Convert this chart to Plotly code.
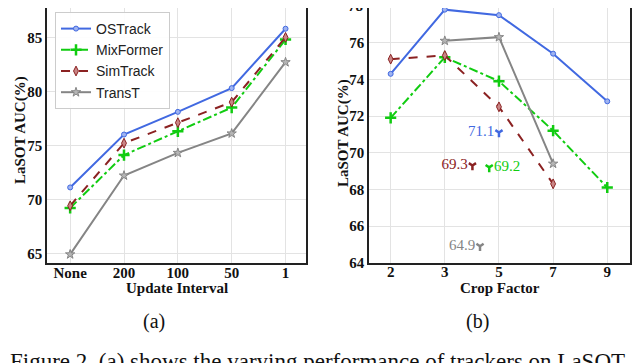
import plotly.graph_objects as go

# (a) update interval
intervals = ["None", "200", "100", "50", "1"]
ostrack_a = [71.1, 76.0, 78.1, 80.3, 85.8]
mixformer_a = [69.2, 74.1, 76.3, 78.5, 84.8]
simtrack_a = [69.4, 75.2, 77.1, 79.0, 85.0]
transt_a = [64.9, 72.2, 74.3, 76.1, 82.7]

# (b) crop factor
crop_factors = ["2", "3", "5", "7", "9"]
ostrack_b = [74.3, 77.8, 77.5, 75.4, 72.8]
mixformer_b = [71.9, 75.2, 73.9, 71.2, 68.1]
simtrack_b = [75.1, 75.3, 72.5, 68.3, None]
transt_b = [None, 76.1, 76.3, 69.4, None]

# single reference points in (b), x given in category-index units
ref_names = ["OSTrack", "SimTrack", "MixFormer", "TransT"]
ref_pos = [2.0, 1.51, 1.82, 1.65]
ref_vals = [71.1, 69.3, 69.2, 64.9]

W, H = 640, 363
OFF = 8  # page body margin around the plot div


def fx(p):
    return (p - OFF) / W


def fy(p):
    return 1 - (p - OFF) / H


BLUE = "#4169e1"
GREEN = "#11cc11"
RED = "#8b2222"
GRAY = "#858585"

styles = {
    "OSTrack": dict(line=dict(color=BLUE, width=2),
                    marker=dict(symbol="circle", size=5, color="#9fb3f0",
                                line=dict(color=BLUE, width=1))),
    "MixFormer": dict(line=dict(color=GREEN, width=2, dash="dashdot"),
                      marker=dict(symbol="cross-thin-open", size=8, color=GREEN,
                                  line=dict(color=GREEN, width=2.5))),
    "SimTrack": dict(line=dict(color=RED, width=2, dash="dash"),
                     marker=dict(symbol="diamond-tall", size=7, color="#c98585",
                                 line=dict(color=RED, width=1))),
    "TransT": dict(line=dict(color=GRAY, width=2),
                   marker=dict(symbol="star", size=7, color="#b5b5b5",
                               line=dict(color=GRAY, width=1))),
}
ref_colors = {"OSTrack": BLUE, "SimTrack": RED, "MixFormer": GREEN, "TransT": GRAY}

fig = go.Figure()

series_a = [("OSTrack", ostrack_a), ("MixFormer", mixformer_a),
            ("SimTrack", simtrack_a), ("TransT", transt_a)]
for name, vals in series_a:
    fig.add_trace(go.Scatter(x=list(range(len(intervals))), y=vals, mode="lines+markers",
                             name=name, xaxis="x", yaxis="y", **styles[name]))

series_b = [("OSTrack", ostrack_b), ("MixFormer", mixformer_b),
            ("SimTrack", simtrack_b), ("TransT", transt_b)]
for name, vals in series_b:
    fig.add_trace(go.Scatter(x=list(range(len(crop_factors))), y=vals, mode="lines+markers",
                             name=name, showlegend=False, xaxis="x2", yaxis="y2",
                             **styles[name]))

# reference markers with value labels
for name, px, val in zip(ref_names, ref_pos, ref_vals):
    c = ref_colors[name]
    fig.add_trace(go.Scatter(
        x=[px], y=[val], mode="markers+text", text=[f"{val:.1f}"],
        textposition="middle right" if name == "MixFormer" else "middle left",
        textfont=dict(family="Liberation Serif", size=15, color=c),
        marker=dict(symbol="y-down-open", size=6, color=c, line=dict(color=c, width=2.5)),
        showlegend=False, xaxis="x2", yaxis="y2"))

tickfont = dict(family="Liberation Serif", size=15, color="#111")
titlefont = dict(family="Liberation Serif", size=15, color="#111")
common = dict(showgrid=True, gridcolor="#e3e3e3", gridwidth=1, zeroline=False,
              showline=True, mirror=True, linecolor="#222", linewidth=1.5,
              ticks="", tickfont=tickfont, automargin=False)


def bold(labels):
    return [f"<b>{t}</b>" for t in labels]


# the frame tops sit a few px above the div, so the top of the range is trimmed
fig.update_layout(
    width=W, height=H,
    margin=dict(l=0, r=0, t=0, b=0),
    plot_bgcolor="white", paper_bgcolor="white",
    xaxis=dict(domain=[fx(47), fx(306)], range=[-0.43, 4.38],
               tickvals=list(range(len(intervals))), ticktext=bold(intervals),
               ticklabelstandoff=-5, anchor="y", **common),
    yaxis=dict(domain=[fy(263), 1], range=[64.1, 87.72],
               tickvals=[65, 70, 75, 80, 85], ticktext=bold([65, 70, 75, 80, 85]),
               anchor="x", **common),
    xaxis2=dict(domain=[fx(369), fx(630)], range=[-0.4, 4.42],
                tickvals=list(range(len(crop_factors))), ticktext=bold(crop_factors),
                ticklabelstandoff=-5, anchor="y2", **common),
    yaxis2=dict(domain=[fy(262.7), 1], range=[64, 77.89],
                tickvals=[64, 66, 68, 70, 72, 74, 76, 78],
                ticktext=bold([64, 66, 68, 70, 72, 74, 76, 78]),
                anchor="x2", **common),
    legend=dict(x=fx(55), y=fy(12), xanchor="left", yanchor="top",
                bgcolor="rgba(255,255,255,0.9)", bordercolor="#cccccc", borderwidth=1,
                font=dict(family="Liberation Sans", size=14, color="#222"),
                tracegroupgap=0, itemwidth=30),
    showlegend=True,
)

# top tick label of (b), which falls above the trimmed range
fig.add_annotation(text="<b>78</b>", x=fx(365), y=fy(6), xref="paper", yref="paper",
                   xanchor="right", yanchor="middle", showarrow=False, font=tickfont)

# axis titles
axis_titles = [("<b>Update Interval</b>", 177, 288, 0),
               ("<b>Crop Factor</b>", 500, 288, 0),
               ("<b>LaSOT AUC(%)</b>", 20, 130, -90),
               ("<b>LaSOT AUC(%)</b>", 343, 133, -90)]
for txt, px, py, ang in axis_titles:
    fig.add_annotation(text=txt, x=fx(px), y=fy(py), xref="paper", yref="paper",
                       xanchor="center", yanchor="middle", showarrow=False, textangle=ang,
                       font=titlefont)

captions = [("(a)", 154), ("(b)", 477)]
for txt, cx in captions:
    fig.add_annotation(text=txt, x=fx(cx), y=fy(321), xref="paper", yref="paper",
                       xanchor="center", yanchor="middle", showarrow=False,
                       font=dict(family="Liberation Serif", size=20, color="#111"))

fig.add_annotation(text="Figure 2. (a) shows the varying performance of trackers on LaSOT",
                   x=fx(8), y=fy(347), xref="paper", yref="paper",
                   xanchor="left", yanchor="top", showarrow=False,
                   font=dict(family="Liberation Serif", size=23, color="#111"))

fig.write_html("out.html")
